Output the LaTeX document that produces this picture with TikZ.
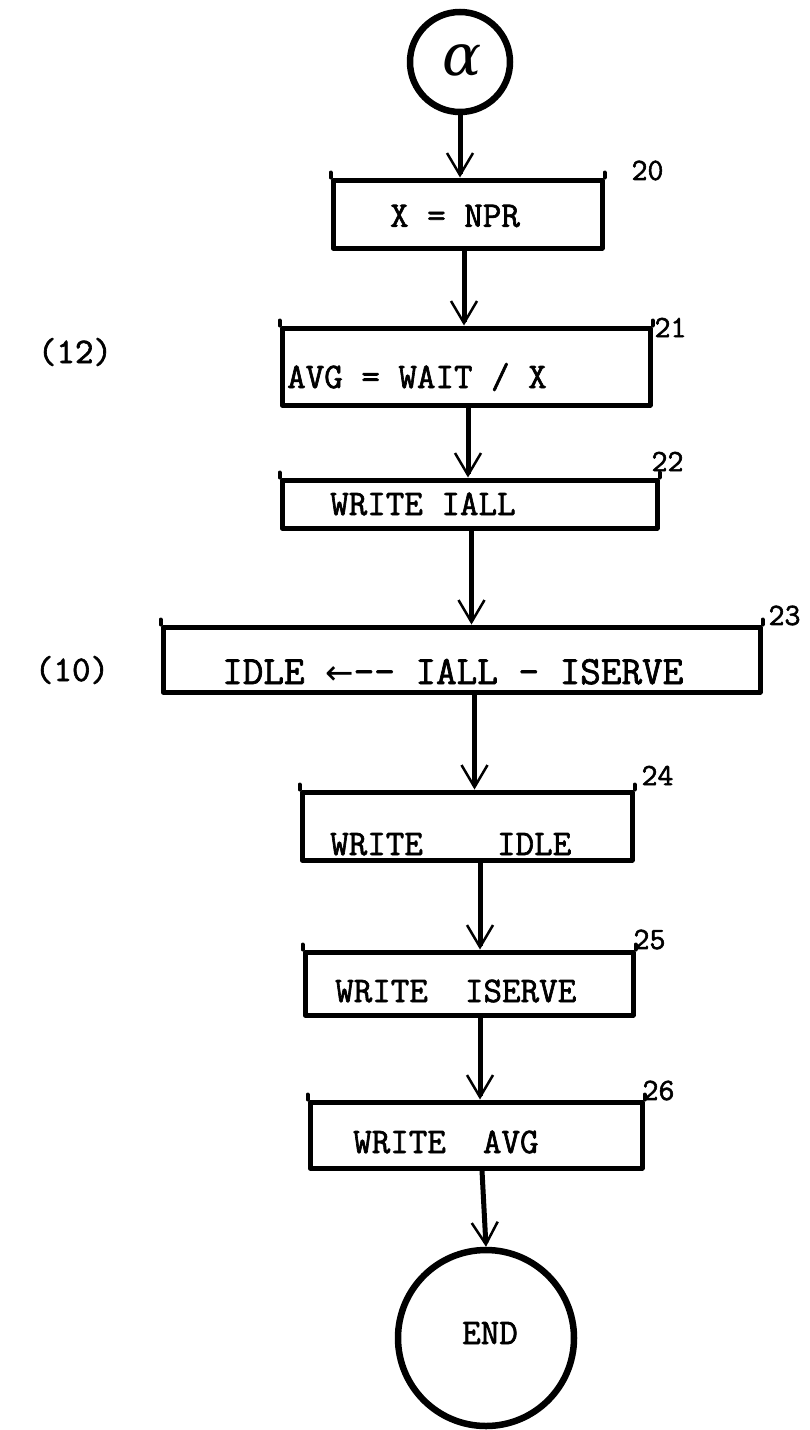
\documentclass[tikz,border=0pt]{standalone}
\usepackage{fontspec}
\newfontfamily\tw{Latin Modern Mono}[FakeBold=1.8]
\newfontfamily\djs{DejaVu Sans}
\newfontfamily\djserif{DejaVu Serif}
\usetikzlibrary{arrows.meta,calc}
\begin{document}
\begin{tikzpicture}[x=1pt,y=-1pt,
  boxnode/.style={draw, line width=5pt, inner sep=0pt, line join=round},
  ring/.style={draw, circle, line width=6.5pt, inner sep=0pt},
  txt/.style={font=\tw\fontsize{36}{40}\selectfont, inner sep=0pt},
  bigtxt/.style={font=\tw\fontsize{40}{44}\selectfont, inner sep=0pt},
  num/.style={font=\tw\fontsize{31}{36}\selectfont, inner sep=0pt},
  flow/.style={line width=5pt, -{Straight Barb[length=22pt,width=26pt,line width=2.5pt]}},
  tick/.style={line width=4pt, line cap=round}]
\useasboundingbox (0,0) rectangle (810,1430);

% terminals
\node[ring, minimum size=100pt] (alpha) at (460,62) {};
\node[font=\djserif\itshape\fontsize{58}{64}\selectfont, inner sep=0pt] (alphatxt) at (462,60) {α};
\node[ring, minimum size=176pt] (endc) at (486,1338) {};
\node[txt] (endtxt) at (490,1333) {END};

% boxes
\node[boxnode, minimum width=269pt, minimum height=68pt] (b20) at (467.5,214) {};
\node[boxnode, minimum width=368pt, minimum height=77pt] (b21) at (466,366.5) {};
\node[boxnode, minimum width=375pt, minimum height=48pt] (b22) at (469.5,504) {};
\node[boxnode, minimum width=597pt, minimum height=65pt] (b23) at (461.5,659.5) {};
\node[boxnode, minimum width=330pt, minimum height=68pt] (b24) at (467,826) {};
\node[boxnode, minimum width=328pt, minimum height=63pt] (b25) at (469,983.5) {};
\node[boxnode, minimum width=332pt, minimum height=66pt] (b26) at (476,1135) {};

% corner ticks
\foreach \b in {b20,b21,b22,b23,b24,b25,b26}{
  \draw[tick] (\b.north west) -- ++(0,-5);
  \draw[tick] (\b.north east) -- ++(0,-5);
}

% box texts
\node[txt] (t20) at (455,216) {X = NPR};
\node[txt, anchor=base west] (t21) at (287,388) {AVG = WAIT / X};
\node[txt, anchor=base west] (t22) at (330,515) {WRITE IALL};
\node[bigtxt, anchor=base west] (t23) at (222,684) {IDLE {\djs\fontsize{34}{40}\selectfont ←}-- IALL - ISERVE};
\node[txt, anchor=base west] (t24) at (330,855) {WRITE~~~~IDLE};
\node[txt, anchor=base west] (t25) at (335,1002) {WRITE~~ISERVE};
\node[txt, anchor=base west] (t26) at (353,1153) {WRITE~~AVG};

% step numbers
\node[num] (n20) at ([shift={(43,-7)}]b20.north east) {20};
\node[num] (n21) at ([shift={(18,2)}]b21.north east) {21};
\node[num] (n22) at ([shift={(8,-16)}]b22.north east) {22};
\node[num] (n23) at ([shift={(22,-9)}]b23.north east) {23};
\node[num] (n24) at ([shift={(23,-14)}]b24.north east) {24};
\node[num] (n25) at ([shift={(14,-10)}]b25.north east) {25};
\node[num] (n26) at ([shift={(14,-9)}]b26.north east) {26};

% side labels
\node[txt] (l12) at (75,352) {(12)};
\node[txt] (l10) at (72,670) {(10)};

% connectors
\draw[flow] (alpha.south) -- (alpha.south |- b20.north);
\draw[flow] ([xshift=-2pt]b21.north |- b20.south) -- ([xshift=-2pt]b21.north);
\draw[flow] ([xshift=2pt]b21.south) -- ([xshift=2pt]b21.south |- b22.north);
\draw[flow] ([xshift=10pt]b23.north |- b22.south) -- ([xshift=10pt]b23.north);
\draw[flow] ([xshift=13pt]b23.south) -- ([xshift=13pt]b23.south |- b24.north);
\draw[flow] ([xshift=11pt]b25.north |- b24.south) -- ([xshift=11pt]b25.north);
\draw[flow] ([xshift=11pt]b25.south) -- ([xshift=11pt]b25.south |- b26.north);
\draw[flow] ([xshift=6pt]b26.south) -- (endc.north);
\end{tikzpicture}
\end{document}
